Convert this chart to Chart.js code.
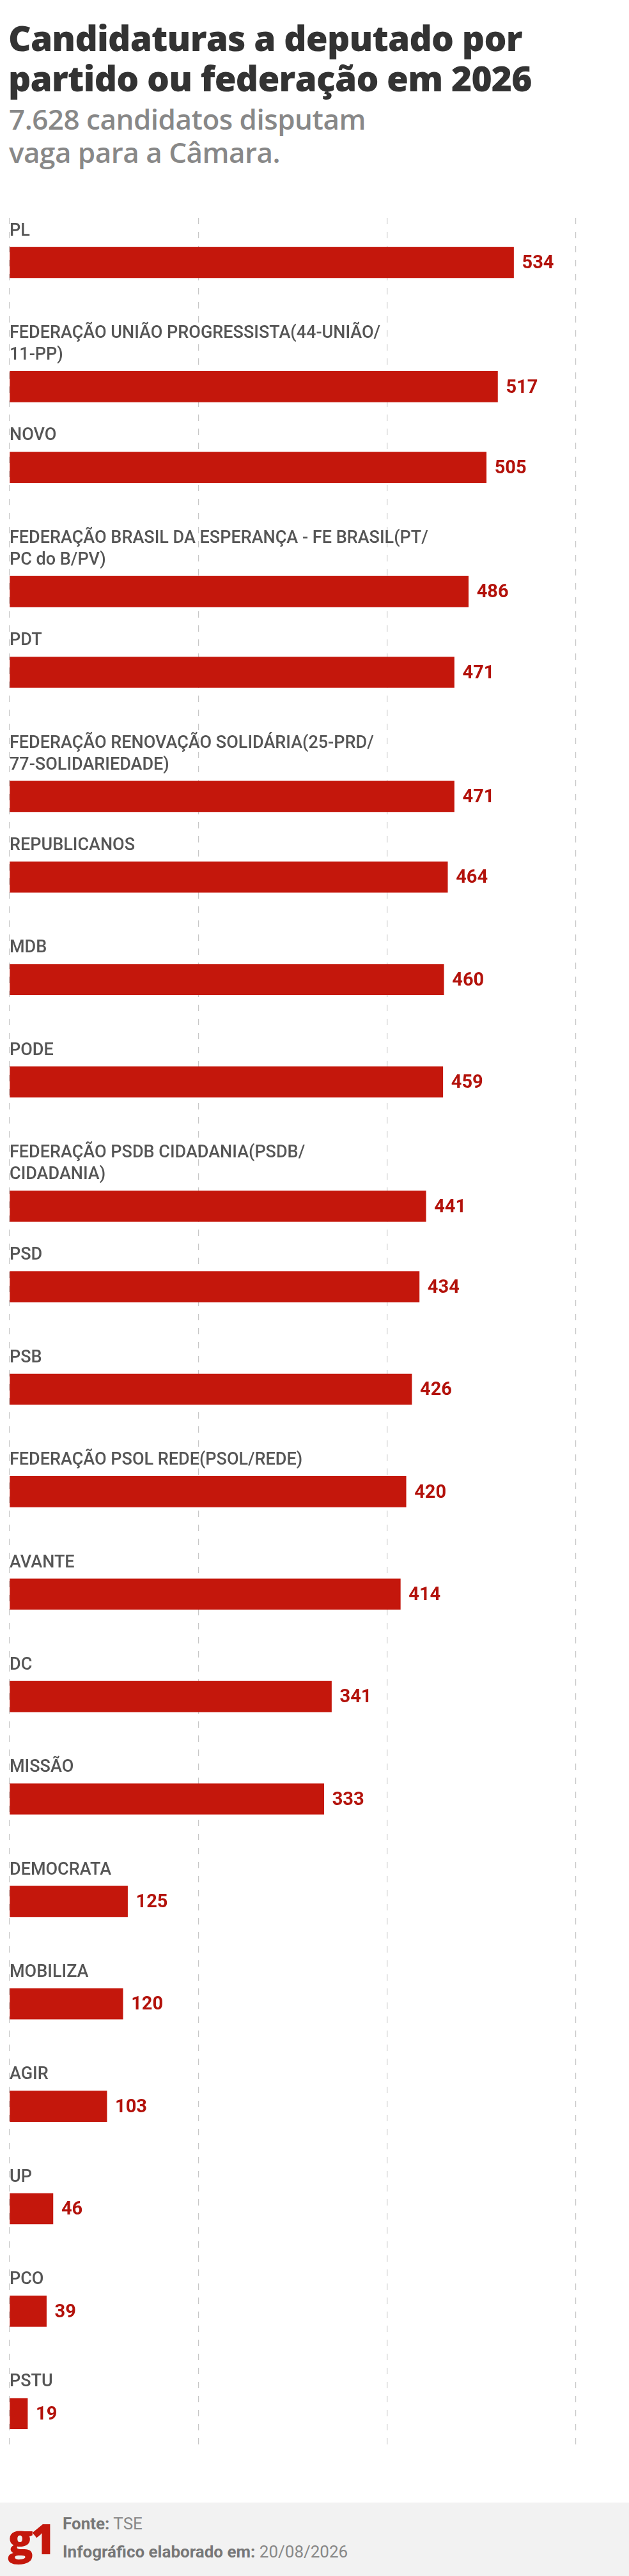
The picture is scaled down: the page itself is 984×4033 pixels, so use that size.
<!DOCTYPE html>
<html><head><meta charset="utf-8">
<script src="https://cdn.jsdelivr.net/npm/chart.js@4"></script>
<style>
body{margin:0;background:#fff;}
#wrap{position:relative;width:984px;height:4033px;overflow:hidden;font-family:"Open Sans",sans-serif;}
#t{position:absolute;left:13px;top:27px;font-size:55px;font-weight:800;color:#333;line-height:63px;letter-spacing:-0.8px;margin:0;white-space:nowrap;}
#s{position:absolute;left:14px;top:160px;font-size:44px;font-weight:600;color:#888;line-height:52px;margin:0;white-space:nowrap;letter-spacing:-0.5px;}
#c{position:absolute;left:0;top:341px;width:984px;height:3496px;}
#f{position:absolute;left:0;top:3918px;width:984px;height:115px;background:#f2f2f2;}
#g{position:absolute;left:12px;top:3928px;font-size:66px;font-weight:800;color:#c4170c;letter-spacing:-4px;font-family:"Open Sans",sans-serif;}
.fl{position:absolute;left:98px;font-size:26px;color:#888;font-family:Roboto,sans-serif;}
.fl b{font-weight:700;color:#777;}
</style></head><body>
<div id="wrap">
<h1 id="t">Candidaturas a deputado por<br>partido ou federação em 2026</h1>
<p id="s">7.628 candidatos disputam<br>vaga para a Câmara.</p>
<div id="c"><canvas id="cv"></canvas></div>
<div id="f"></div>
<div id="g">g1</div>
<div class="fl" style="top:3936px"><b>Fonte:</b> TSE</div>
<div class="fl" style="top:3980px"><b>Infográfico elaborado em:</b> 20/08/2026</div>
</div>
<script>
const categories = [
 ["PL"],
 ["FEDERAÇÃO UNIÃO PROGRESSISTA(44-UNIÃO/","11-PP)"],
 ["NOVO"],
 ["FEDERAÇÃO BRASIL DA ESPERANÇA - FE BRASIL(PT/","PC do B/PV)"],
 ["PDT"],
 ["FEDERAÇÃO RENOVAÇÃO SOLIDÁRIA(25-PRD/","77-SOLIDARIEDADE)"],
 ["REPUBLICANOS"],
 ["MDB"],
 ["PODE"],
 ["FEDERAÇÃO PSDB CIDADANIA(PSDB/","CIDADANIA)"],
 ["PSD"],["PSB"],["FEDERAÇÃO PSOL REDE(PSOL/REDE)"],["AVANTE"],["DC"],["MISSÃO"],
 ["DEMOCRATA"],["MOBILIZA"],["AGIR"],["UP"],["PCO"],["PSTU"]
];
const values = [534,517,505,486,471,471,464,460,459,441,434,426,420,414,341,333,125,120,103,46,39,19];
const gridTicks = [0,200,400,600];

const pitch = 3496/21.8;
const pts = values.map((v,i)=>({x:v, y:i + 49/pitch + (categories[i].length-1)*34/pitch}));

const labelPlugin = {
 id:'lbl',
 afterDatasetsDraw(chart){
  const {ctx, scales:{x,y}} = chart;
  ctx.save();
  ctx.textBaseline='middle';
  categories.forEach((lines,i)=>{
   ctx.font='500 27px Roboto, sans-serif';
   ctx.fillStyle='#555';
   lines.forEach((l,k)=>ctx.fillText(l, x.getPixelForValue(0), y.getPixelForValue(i)+k*34));
   ctx.font='700 29px Roboto, sans-serif';
   ctx.fillStyle='#b3120b';
   ctx.fillText(String(values[i]), x.getPixelForValue(values[i])+13, y.getPixelForValue(pts[i].y)+2);
  });
  ctx.restore();
 }
};

new Chart(document.getElementById('cv'),{
 type:'bar',
 data:{datasets:[{data:pts, backgroundColor:'#c4170c', barThickness:48}]},
 options:{
  indexAxis:'y', responsive:true, maintainAspectRatio:false, animation:false,
  layout:{padding:{left:15,right:83,top:0,bottom:0}},
  plugins:{legend:{display:false},tooltip:{enabled:false}},
  scales:{
   x:{type:'linear',min:0,max:600,afterBuildTicks(s){s.ticks=gridTicks.map(v=>({value:v}));},
      ticks:{display:false},grid:{color:'#c8c8c8',lineWidth:1.2,drawTicks:false},border:{display:false,dash:[10,12]}},
   y:{type:'linear',reverse:true,offset:false,min:-21/pitch,max:-21/pitch+21.8,display:false}
  }
 },
 plugins:[labelPlugin]
});
</script>
</body></html>
